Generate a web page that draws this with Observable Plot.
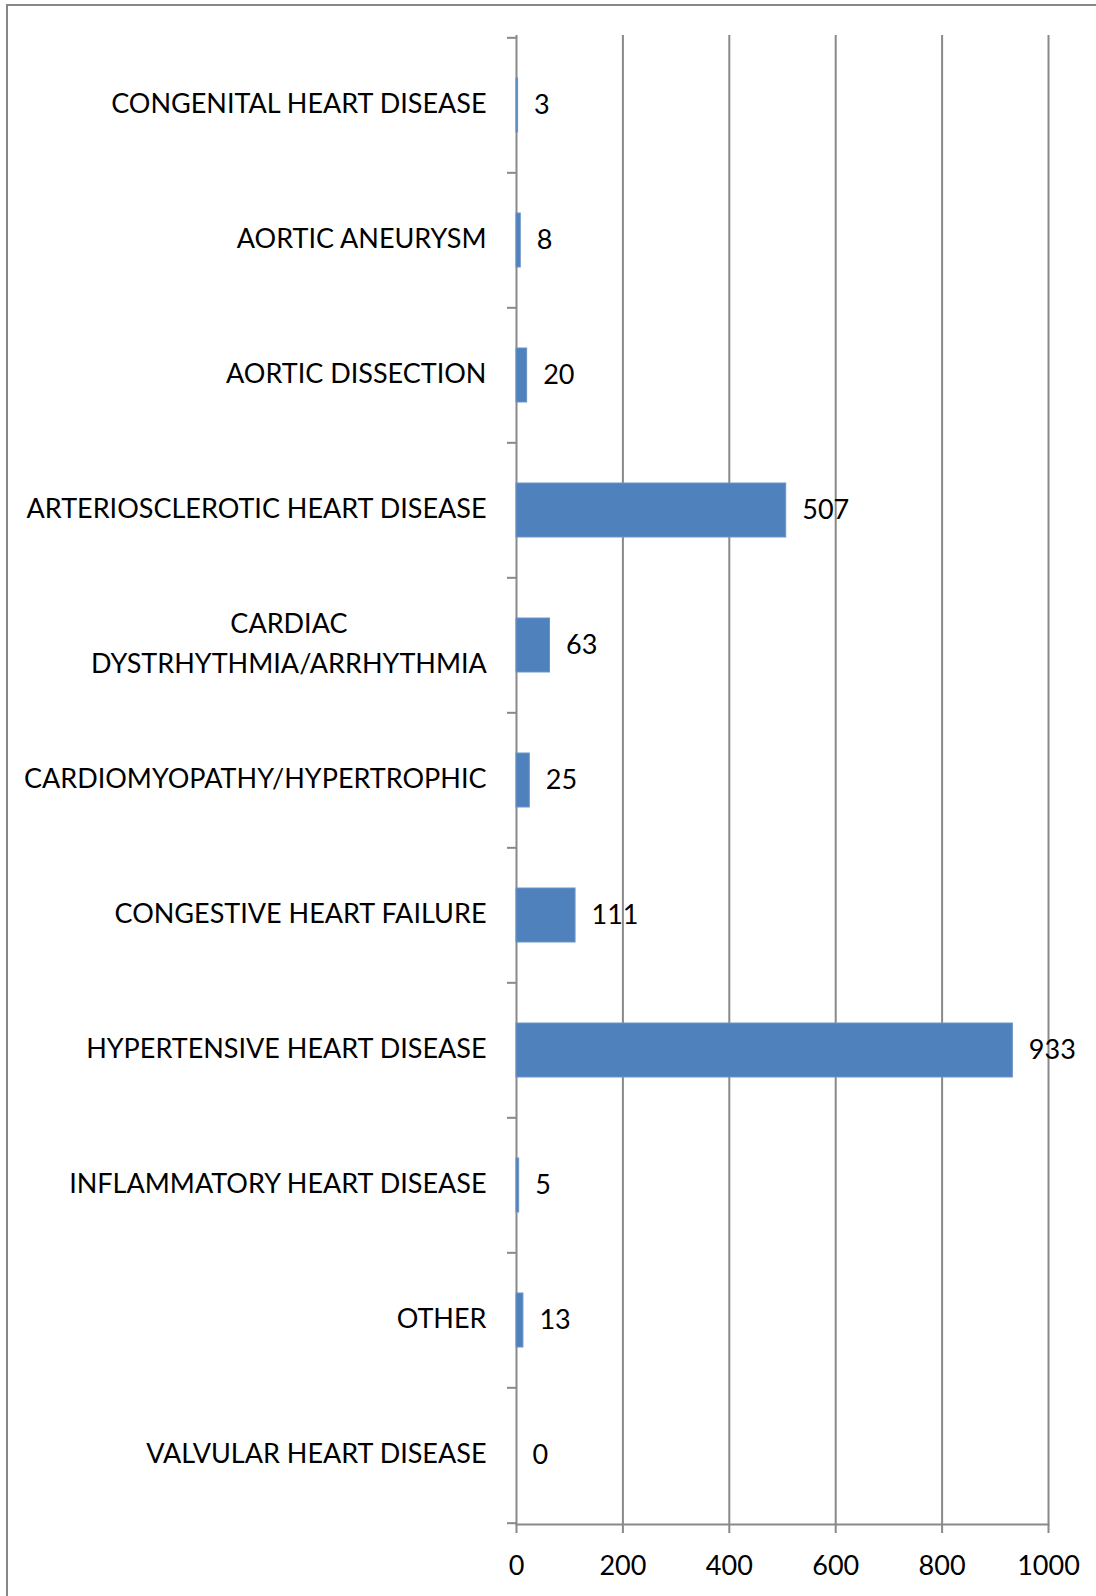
<!DOCTYPE html>
<html>
<head>
<meta charset="utf-8">
<script src="https://cdn.jsdelivr.net/npm/d3@7"></script>
<script src="https://cdn.jsdelivr.net/npm/@observablehq/plot@0.6"></script>
<style>
  html, body { margin: 0; padding: 0; background: #fff; overflow: hidden; }
  #wrap { position: relative; width: 1096px; height: 1596px; }
  #border { position: absolute; left: 6px; top: 4px; width: 1200px; height: 1700px;
            border-top: 2px solid #878787; border-left: 2px solid #878787; pointer-events: none; }
  svg { display: block; overflow: visible; }
</style>
</head>
<body>
<div id="wrap"><div id="chart"></div><div id="border"></div></div>
<script>
const categories = [
  "CONGENITAL HEART DISEASE",
  "AORTIC ANEURYSM",
  "AORTIC DISSECTION",
  "ARTERIOSCLEROTIC HEART DISEASE",
  "CARDIAC\nDYSTRHYTHMIA/ARRHYTHMIA",
  "CARDIOMYOPATHY/HYPERTROPHIC",
  "CONGESTIVE HEART FAILURE",
  "HYPERTENSIVE HEART DISEASE",
  "INFLAMMATORY HEART DISEASE",
  "OTHER",
  "VALVULAR HEART DISEASE"
];
const values = [3, 8, 20, 507, 63, 25, 111, 933, 5, 13, 0];
const xTicks = [0, 200, 400, 600, 800, 1000];

const data = categories.map((c, i) => ({category: c, value: values[i]}));

const W = 1096, H = 1596;
const mL = 516, mR = 48, mT = 35, mB = 72;
const step = (H - mT - mB) / categories.length;
const gray = "#898989";
const font = "Lato, 'Open Sans', sans-serif";
const fs = 27;

const chart = Plot.plot({
  width: W,
  height: H,
  marginLeft: mL,
  marginRight: mR,
  marginTop: mT,
  marginBottom: mB,
  style: {fontFamily: font, fontSize: fs + "px", color: "#000", background: "transparent", overflow: "visible"},
  x: {domain: [0, 1000], ticks: xTicks},
  y: {domain: categories, paddingInner: 0.6, paddingOuter: 0.3},
  marks: [
    Plot.gridX(xTicks.filter(d => d > 0), {stroke: gray, strokeOpacity: 1, strokeWidth: 2}),
    Plot.ruleX([0], {stroke: gray, strokeWidth: 2}),
    Plot.frame({anchor: "bottom", stroke: gray, strokeWidth: 2}),
    Plot.ruleY(categories, {y: d => d, x1: 0, x2: 0, insetLeft: -9, dy: -step / 2, stroke: gray, strokeWidth: 2}),
    Plot.ruleY(categories.slice(-1), {y: d => d, x1: 0, x2: 0, insetLeft: -9, dy: step / 2, stroke: gray, strokeWidth: 2}),
    Plot.barX(data, {x: "value", y: "category", fill: "#4F81BD", stroke: "#6b93c6", strokeWidth: 1}),
    Plot.text(data, {x: "value", y: "category", text: d => String(d.value), textAnchor: "start", dx: 16, fill: "#000", fontSize: fs}),
    Plot.axisX({ticks: xTicks, tickFormat: d => String(d), tickSize: 9, tickPadding: 22, stroke: gray, strokeWidth: 2, label: null, fontSize: fs, color: "#000"}),
    Plot.axisY({tickSize: 0, tickPadding: 30, label: null, fontSize: fs, lineHeight: 1.45, dy: -5})
  ]
});

document.getElementById("chart").appendChild(chart);

// center the lines of multi-line category labels relative to each other
d3.select(chart).selectAll("g[aria-label='y-axis tick label'] text").each(function() {
  const t = d3.select(this);
  const spans = t.selectAll("tspan");
  if (spans.size() > 1) {
    const bbox = this.getBBox();
    const cx = bbox.x + bbox.width / 2;
    t.attr("text-anchor", "middle");
    spans.attr("x", cx);
  }
});
d3.select(chart).selectAll("g[aria-label='x-axis tick label'] text").attr("fill", "#000");
</script>
</body>
</html>
